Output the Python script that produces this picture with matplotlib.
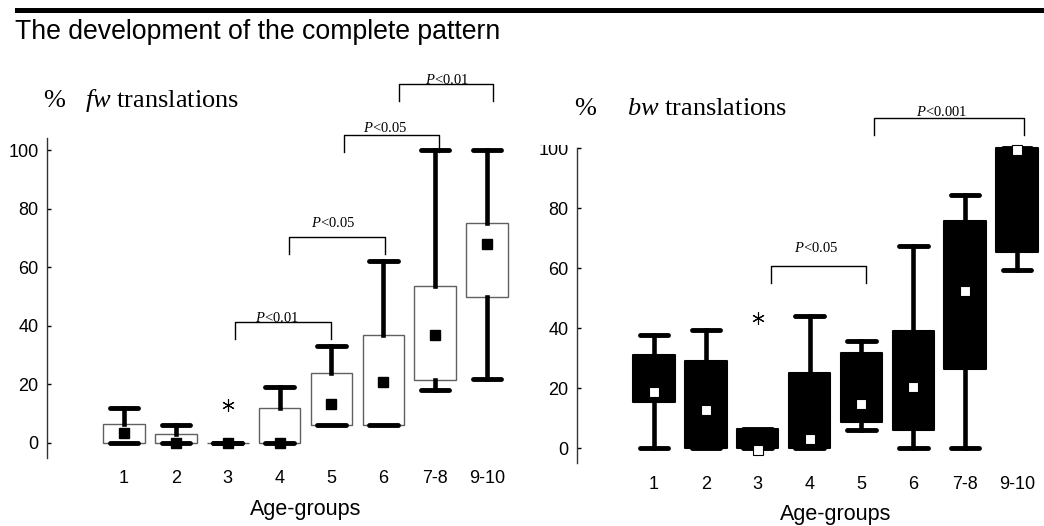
import matplotlib
matplotlib.use('Agg')
import matplotlib.pyplot as plt
from matplotlib.patches import Rectangle
from matplotlib.transforms import Bbox

plt.rcParams['font.family'] = ['Liberation Sans', 'DejaVu Sans']
plt.rcParams['mathtext.fontset'] = 'custom'
plt.rcParams['mathtext.rm'] = 'Liberation Serif'
plt.rcParams['mathtext.it'] = 'Liberation Serif:italic'

groups = ['1', '2', '3', '4', '5', '6', '7-8', '9-10']

# forward translations (left panel)
fw_q1 = [0, 0, 0, 0, 6, 6, 21.5, 50]
fw_q3 = [6.5, 3, 0, 12, 24, 37, 53.5, 75]
fw_lo = [0, 0, 0, 0, 6, 6, 18, 22]
fw_hi = [12, 6, 0, 19, 33, 62, 100, 100]
fw_mean = [3.4, 0, 0, 0, 13.3, 20.8, 37, 68]
fw_out = [[], [], [13], [], [], [], [], []]

# backward translations (right panel)
bw_q1 = [15.3, 0, 0, 0, 8.8, 6, 26.2, 65.5]
bw_q3 = [30.9, 28.9, 6.3, 24.9, 31.8, 39, 75.7, 100]
bw_lo = [0, 0, 0, 0, 6, 0, 0, 59.5]
bw_hi = [37.6, 39.5, 6.3, 44, 35.6, 67.4, 84.4, 100]
bw_mean = [18.6, 12.6, -0.5, 3, 14.6, 20.3, 52.5, 99.5]
bw_out = [[], [], [43.5], [], [], [], [], []]

# significance brackets: x start, x end, line y, leg bottom y, label x, label y, label
fw_brackets = [(3.14, 4.99, 41.3, 35.5, 3.95, 42.7, 'P<0.01'),
               (4.18, 6.03, 70.3, 64.5, 5.03, 75.1, 'P<0.05'),
               (5.24, 7.07, 105.1, 99.3, 6.03, 107.5, 'P<0.05'),
               (6.30, 8.12, 122.5, 116.7, 7.23, 123.9, 'P<0.01')]
bw_brackets = [(3.26, 5.09, 60.7, 55.0, 4.12, 66.7, 'P<0.05'),
               (5.24, 8.13, 110.0, 104.3, 6.55, 112.0, 'P<0.001')]


def make_stats(q1, q3, lo, hi, mean, out):
    stats = []
    for i in range(len(q1)):
        stats.append({'q1': q1[i], 'q3': q3[i], 'whislo': lo[i], 'whishi': hi[i],
                      'med': mean[i], 'mean': mean[i], 'fliers': out[i]})
    return stats


def draw_panel(ax, stats, filled, brackets):
    pos = list(range(1, len(stats) + 1))
    if filled:
        boxprops = dict(facecolor='black', edgecolor='black', linewidth=1.5, joinstyle='round')
        meanprops = dict(marker='s', markerfacecolor='white', markeredgecolor='black',
                         markeredgewidth=0.8, markersize=7.5)
    else:
        boxprops = dict(facecolor='white', edgecolor='#606060', linewidth=1.0)
        meanprops = dict(marker='s', markerfacecolor='black', markeredgecolor='black',
                         markersize=7.5)
    parts = ax.bxp(stats, positions=pos, widths=0.8, capwidths=0.55, patch_artist=True,
                   showmeans=True, meanprops=meanprops, boxprops=boxprops,
                   medianprops=dict(linewidth=0),
                   whiskerprops=dict(color='black', linewidth=3.3),
                   capprops=dict(color='black', linewidth=3.5, solid_capstyle='round'),
                   flierprops=dict(marker=(6, 2, 0), markersize=9, markeredgecolor='black',
                                   markeredgewidth=0.8))
    for key in parts:
        for art in parts[key]:
            art.set_clip_on(False)
    for x1, x2, y, yb, lx, ly, txt in brackets:
        ax.plot([x1, x1, x2, x2], [yb, y, y, yb], color='black', lw=1.0, clip_on=False)
        ax.text(lx, ly, '$P$' + txt[1:], ha='center', va='center', fontsize=10.5,
                family='Liberation Serif', clip_on=False)
    ax.set_xticks(pos)
    ax.set_xticklabels(groups)
    ax.set_yticks([0, 20, 40, 60, 80, 100])
    for s in ['top', 'right', 'bottom']:
        ax.spines[s].set_visible(False)
    ax.spines['left'].set_color('#333333')
    ax.spines['left'].set_linewidth(1.0)
    ax.tick_params(axis='y', direction='in', length=3, width=1, labelsize=13, pad=6)
    ax.tick_params(axis='x', length=0, labelsize=13, pad=9)
    ax.annotate('Age-groups', xy=(4.5, 0), xycoords=('data', 'axes fraction'),
                xytext=(0, -37.4), textcoords='offset points', ha='center', va='center',
                fontsize=15.5)
    ax.set_facecolor('none')


fig = plt.figure(figsize=(10.44, 5.26), dpi=100)

ax1 = fig.add_axes([0.04502, 0.12928, 0.44540, 0.60837])
draw_panel(ax1, make_stats(fw_q1, fw_q3, fw_lo, fw_hi, fw_mean, fw_out), False, fw_brackets)
ax1.set_xlim(-0.485, 8.48)
ax1.set_ylim(-5.12, 104.1)

ax2 = fig.add_axes([0.55268, 0.11977, 0.44732, 0.59886])
draw_panel(ax2, make_stats(bw_q1, bw_q3, bw_lo, bw_hi, bw_mean, bw_out), True, bw_brackets)
ax2.set_xlim(-0.485, 8.52)
ax2.set_ylim(-5, 100)

# the top of the "100" label on the right is cut off in the original
clip = Bbox.from_extents(0, 0, 1044, 526 - 145)
for lab in ax2.get_yticklabels():
    lab.set_clip_box(clip)
    lab.set_clip_on(True)

# header bar and titles
fig.add_artist(Rectangle((15 / 1044, 0.9745), 1 - 15 / 1044, 5 / 526,
                         transform=fig.transFigure, color='black', lw=0))
fig.text(0.01437, 0.9259, 'The development of the complete pattern', fontsize=19.2,
         va='baseline')

fig.text(43 / 1044, 0.7966, '%', fontsize=19, family='Liberation Serif', va='baseline')
fig.text(85 / 1044, 0.7966, '$fw$ translations', fontsize=19, family='Liberation Serif',
         va='baseline')
fig.text(574 / 1044, 0.7814, '%', fontsize=19, family='Liberation Serif', va='baseline')
fig.text(627 / 1044, 0.7814, '$bw$ translations', fontsize=19, family='Liberation Serif',
         va='baseline')

fig.savefig('out.png', dpi=100)
